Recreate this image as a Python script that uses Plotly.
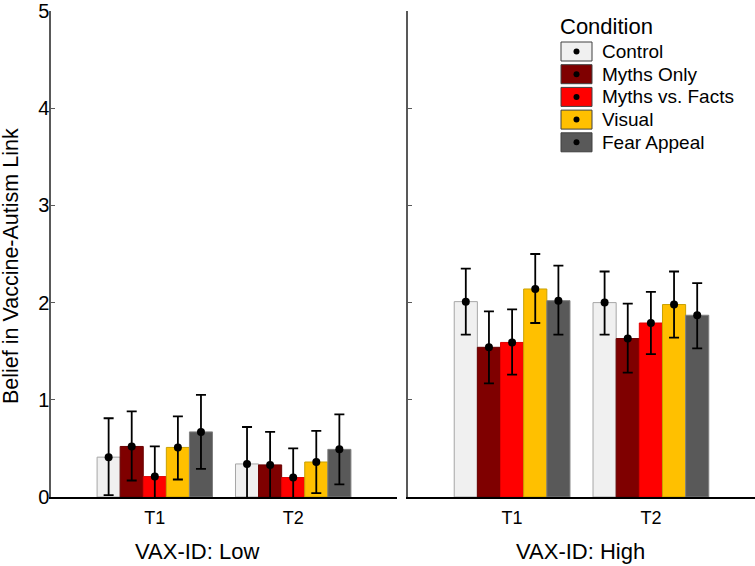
import plotly.graph_objects as go

# Data
conditions = ["Control", "Myths Only", "Myths vs. Facts", "Visual", "Fear Appeal"]
colors = ["#f0f0f0", "#7f0000", "#ff0000", "#ffc000", "#595959"]
outlines = ["#a6a6a6", "#6a0000", "#e00000", "#c9a000", "#808080"]
times = ["T1", "T2"]

# means[condition] = [T1, T2]
low_mean = [[0.41, 0.34], [0.52, 0.33], [0.21, 0.20], [0.51, 0.36], [0.67, 0.49]]
low_upper = [[0.81, 0.72], [0.88, 0.67], [0.52, 0.50], [0.83, 0.68], [1.05, 0.85]]
low_lower = [[0.02, -0.03], [0.17, -0.01], [-0.10, -0.10], [0.18, 0.04], [0.29, 0.13]]

high_mean = [[2.01, 2.00], [1.54, 1.63], [1.59, 1.79], [2.14, 1.98], [2.02, 1.87]]
high_upper = [[2.35, 2.32], [1.91, 1.99], [1.93, 2.11], [2.50, 2.32], [2.38, 2.20]]
high_lower = [[1.67, 1.67], [1.17, 1.28], [1.26, 1.47], [1.79, 1.64], [1.67, 1.53]]

FONT = "Liberation Sans, Arial, sans-serif"
W, H = 755, 566
ML, MR, MT, MB = 51, 0, 11, 69
PW, PH = W - ML - MR, H - MT - MB

bar_w = 0.1668


def px(x):
    return (x - ML) / PW


def py(y):
    return (H - MB - y) / PH


fig = go.Figure()

panels = [(low_mean, low_upper, low_lower, "x", "y"),
          (high_mean, high_upper, high_lower, "x2", "y2")]

for mean, upper, lower, xa, ya in panels:
    for i, cond in enumerate(conditions):
        xs = [t + (i - 2) * bar_w for t in range(len(times))]
        fig.add_trace(go.Bar(
            x=xs, y=mean[i], width=bar_w, name=cond,
            marker=dict(color=colors[i], line=dict(color=outlines[i], width=1)),
            xaxis=xa, yaxis=ya, showlegend=False,
        ))
        fig.add_trace(go.Scatter(
            x=xs, y=mean[i], mode="markers",
            marker=dict(color="black", size=8),
            error_y=dict(
                type="data", symmetric=False,
                array=[u - m for u, m in zip(upper[i], mean[i])],
                arrayminus=[m - l for m, l in zip(mean[i], lower[i])],
                color="black", thickness=1.8, width=5,
            ),
            xaxis=xa, yaxis=ya, showlegend=False,
        ))

xcommon = dict(
    range=[-0.75, 1.75], tickvals=[0, 1], ticktext=times,
    showline=True, linecolor="black", linewidth=1.5,
    ticks="", showgrid=False, zeroline=False, automargin=False,
    tickfont=dict(family=FONT, size=18, color="black"),
    ticklabelstandoff=4,
)
ycommon = dict(
    range=[0, 5], showline=True, linecolor="#595959", linewidth=1.5,
    showgrid=False, zeroline=False, ticks="inside", ticklen=4,
    tickcolor="#595959", tickvals=[0, 1, 2, 3, 4, 5], automargin=False,
    ticklabeloverflow="allow",
)

fig.update_layout(
    width=W, height=H,
    margin=dict(l=ML, r=MR, t=MT, b=MB),
    plot_bgcolor="white", paper_bgcolor="white",
    barmode="overlay",
    font=dict(family=FONT, color="black"),
    xaxis=dict(domain=[0, 346 / PW], anchor="y", **xcommon),
    xaxis2=dict(domain=[357 / PW, 1], anchor="y2", **xcommon),
    yaxis=dict(anchor="x", tickfont=dict(family=FONT, size=20, color="black"),
               ticklabelstandoff=-4, **ycommon),
    yaxis2=dict(anchor="x2", showticklabels=False, **ycommon),
)

# axis titles
fig.add_annotation(text="Belief in Vaccine-Autism Link", textangle=-90,
                   x=px(11), y=py(266), xanchor="center", yanchor="middle",
                   xref="paper", yref="paper", showarrow=False,
                   font=dict(size=21.5))
for label, cx in [("VAX-ID: Low", 197), ("VAX-ID: High", 580)]:
    fig.add_annotation(text=label, x=px(cx), y=py(551),
                       xanchor="center", yanchor="middle",
                       xref="paper", yref="paper", showarrow=False,
                       font=dict(size=22))

# legend drawn by hand (swatch with a dot inside)
fig.add_annotation(text="Condition", x=px(558), y=py(26),
                   xanchor="left", yanchor="middle",
                   xref="paper", yref="paper", showarrow=False,
                   font=dict(size=22))
for i, cond in enumerate(conditions):
    cy = 51.5 + i * 22.7
    fig.add_shape(type="rect", xref="paper", yref="paper",
                  x0=px(561), x1=px(592), y0=py(cy - 9.5), y1=py(cy + 9.5),
                  fillcolor=colors[i], line=dict(color="#404040", width=1))
    fig.add_shape(type="circle", xref="paper", yref="paper",
                  xsizemode="pixel", ysizemode="pixel",
                  xanchor=px(576.5), yanchor=py(cy),
                  x0=-3, x1=3, y0=-3, y1=3,
                  fillcolor="black", line=dict(color="black", width=0))
    fig.add_annotation(text=cond, x=px(600), y=py(cy),
                       xanchor="left", yanchor="middle",
                       xref="paper", yref="paper", showarrow=False,
                       font=dict(size=19))

# drop the default page margin so the figure sits at the window's corner
fig.write_html("out.html", config={"displayModeBar": False},
               post_script="document.body.style.margin='0';")
